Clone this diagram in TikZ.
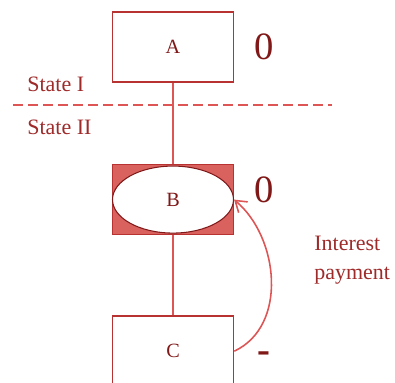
\documentclass[tikz,border=0pt]{standalone}
\usepackage{fontspec}
\setmainfont{Liberation Serif}
\usetikzlibrary{arrows.meta, positioning, shapes.geometric}
\definecolor{boxred}{HTML}{B83232}
\definecolor{linered}{HTML}{DD5555}
\definecolor{fillred}{HTML}{D9625F}
\definecolor{textred}{HTML}{801818}
\definecolor{lblred}{HTML}{9E2A2A}

\begin{document}
\begin{tikzpicture}[>={Straight Barb[length=6pt,width=8pt]},
  account/.style={rectangle, draw=boxred, line width=0.9pt, minimum width=2.42cm, minimum height=1.4cm, font=\fontsize{11.5}{13}\selectfont\color{textred}},
  valuation/.style={font=\fontsize{22}{24}\selectfont\color{textred}, inner sep=0pt},
  statelbl/.style={font=\fontsize{12.5}{16.4}\selectfont\color{lblred}, inner sep=0pt},
  link/.style={draw=linered, line width=0.9pt}]
  \useasboundingbox (0,0) rectangle (7.9,-7.66);

  \node [account] (A) at (3.46,-0.94) {A};
  \node [account, fill=fillred, below=1.62cm of A] (Bbox) {};
  \node [ellipse, draw=textred, fill=white, line width=0.6pt, minimum width=2.42cm, minimum height=1.34cm, inner sep=0pt,
         font=\fontsize{11.5}{13}\selectfont\color{textred}] (B) at (Bbox) {B};
  \node [account, below=1.6cm of Bbox] (C) {C};

  % valuations
  \node [valuation, right=0.4cm of A] (vA) {0};
  \node [valuation, right=0.4cm of Bbox.east, yshift=0.2cm] (vB) {0};
  \node [valuation, right=0.45cm of C.east, yshift=-0.12cm] (vC) {\textbf{-}};

  % state separation
  \coordinate (dl) at (0.26,-2.1);
  \coordinate (dr) at (6.64,-2.1);
  \draw [link, dash pattern=on 0.2cm off 0.1cm] (dl) -- (dr);
  \node [statelbl, anchor=base west] (s1) at (0.54,-1.84) {State I};
  \node [statelbl, anchor=base west] (s2) at (0.54,-2.7) {State II};

  \draw [link] (A) -- (Bbox);
  \draw [link] (Bbox) -- (C);
  \draw [link, ->] (C.east) to[out=25, in=-40] (B.east);
  \node [statelbl, align=left, anchor=west] (pay) at (6.28,-5.2) {Interest\\payment};
\end{tikzpicture}
\end{document}
